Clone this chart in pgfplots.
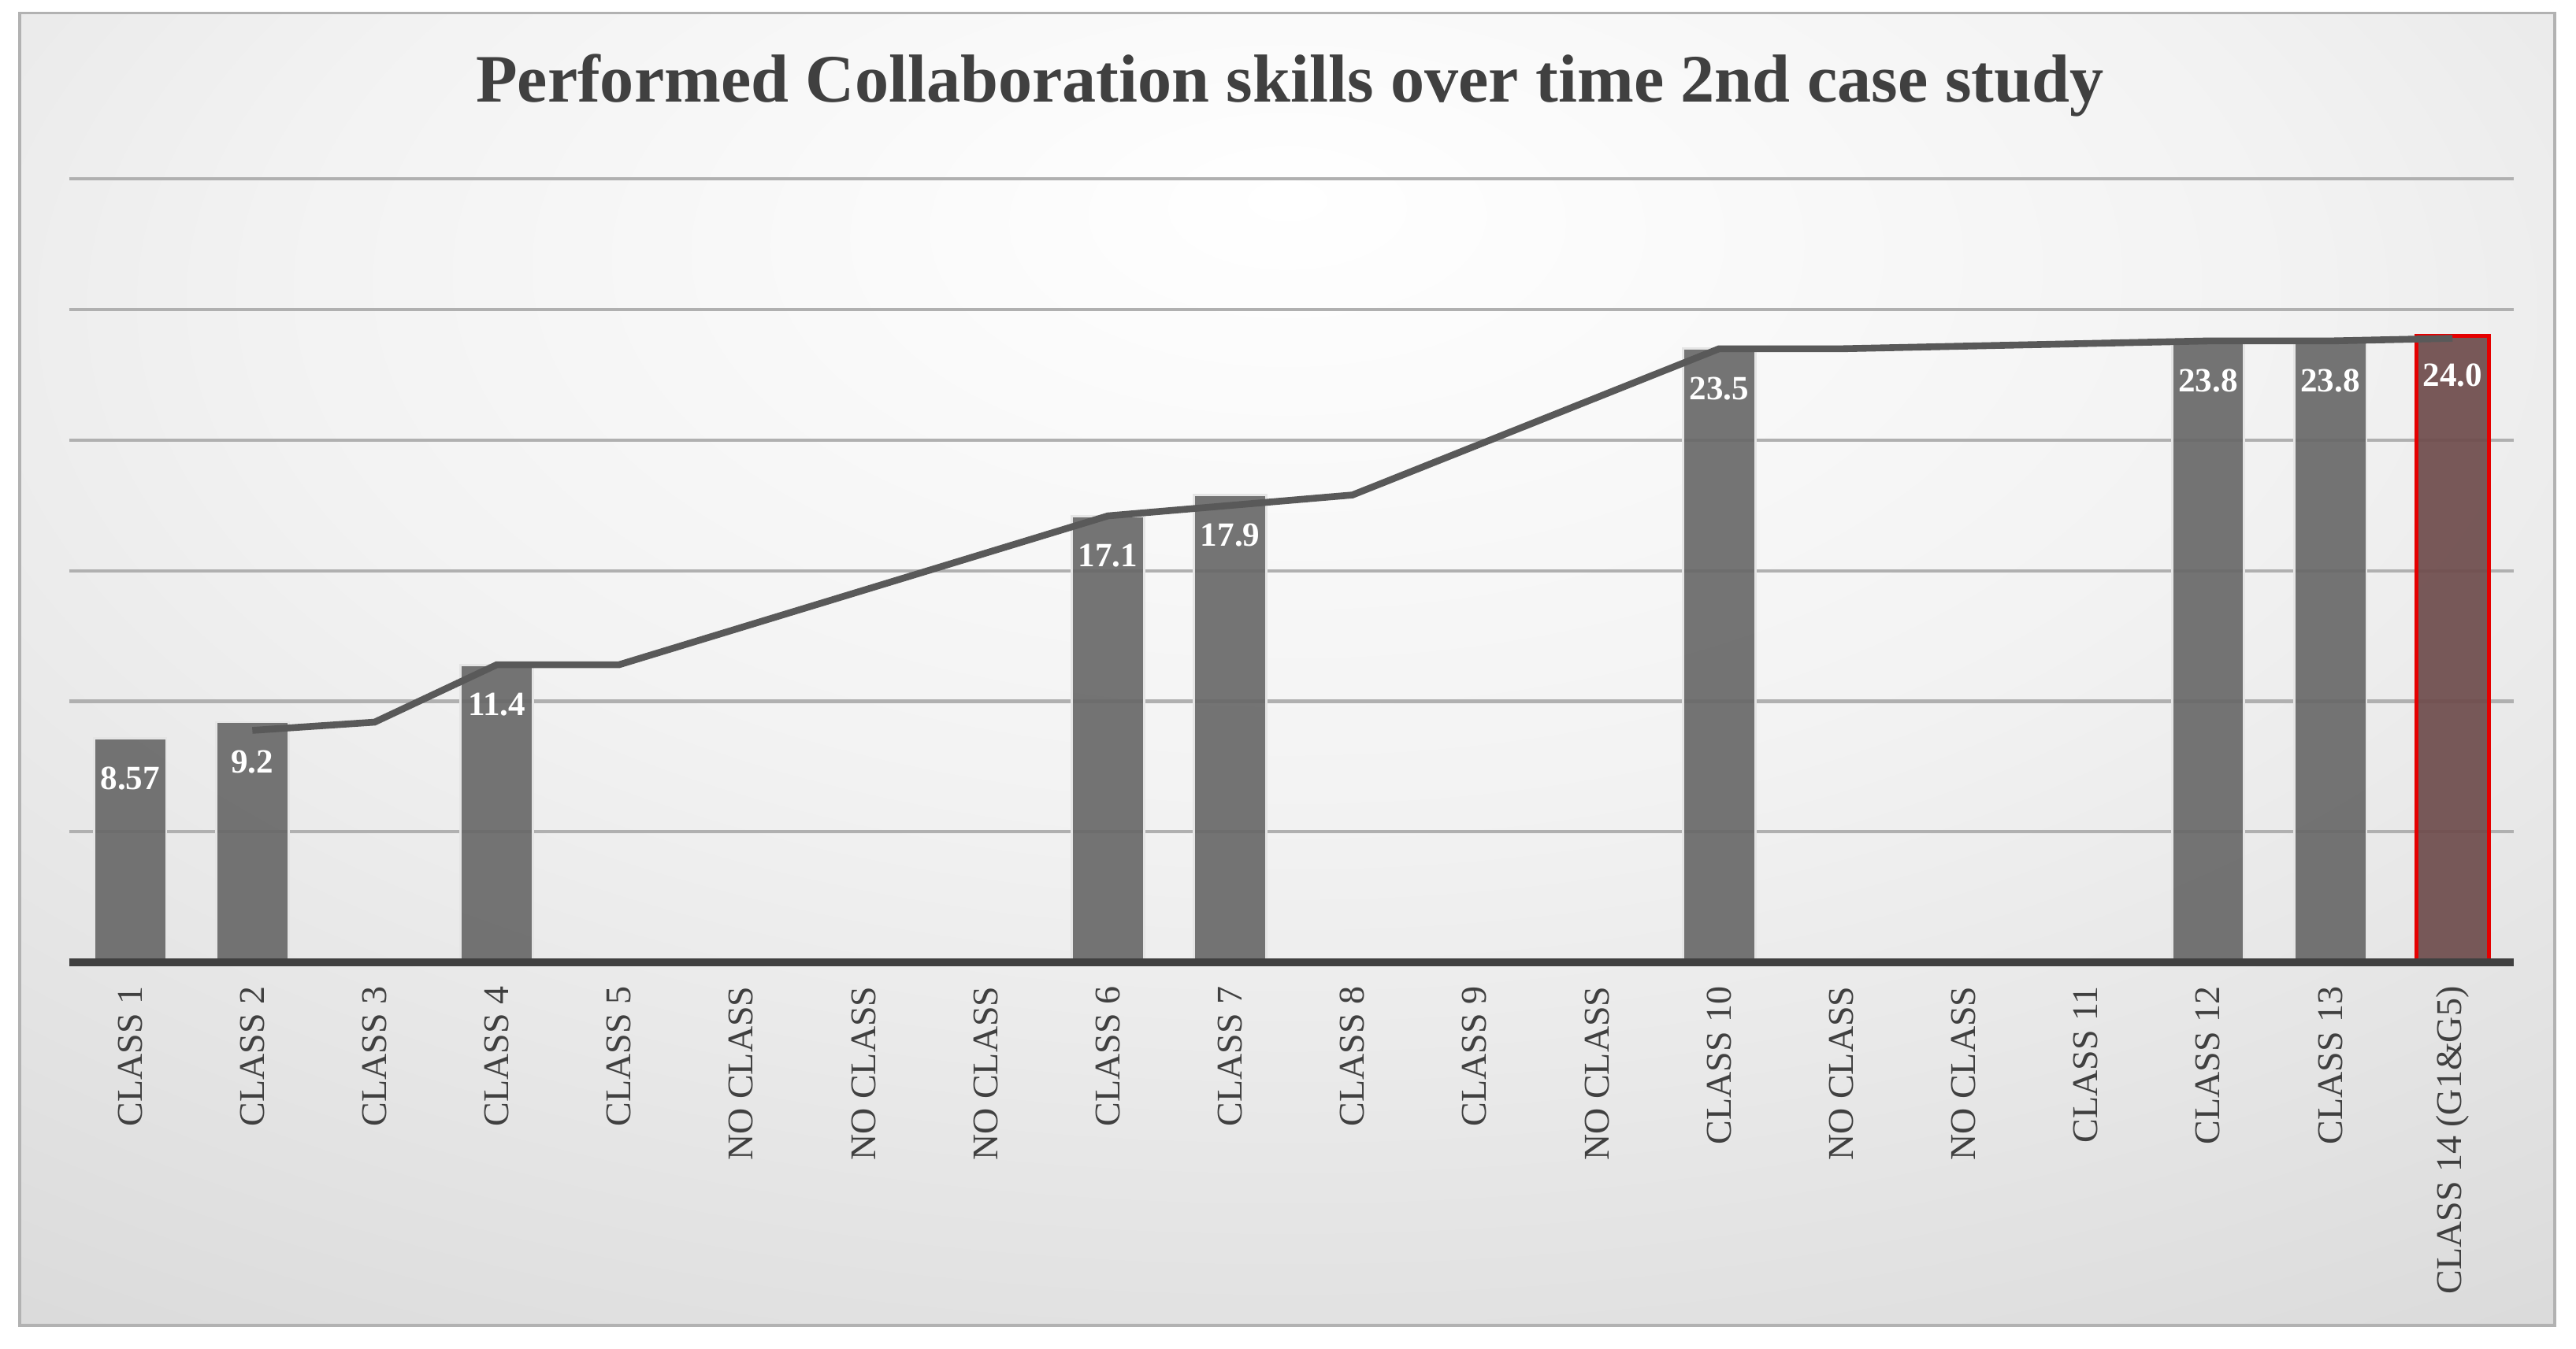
\documentclass[border=0pt]{standalone}
\usepackage{pgfplots}
\pgfplotsset{compat=1.18}
\usepackage{fontspec}
\setmainfont{Liberation Serif}
\definecolor{barg}{HTML}{666666}
\definecolor{lastbar}{HTML}{6E4C4C}
\definecolor{trend}{HTML}{595959}
\definecolor{gridc}{HTML}{B0B0B0}
\definecolor{labc}{HTML}{404040}
\pgfdeclareradialshading{bgshade}{\pgfpoint{0bp}{18bp}}{%
  color(0bp)=(white); color(20bp)=(white!95!black); color(40bp)=(white!87!black);
  color(55bp)=(white!81!black); color(75bp)=(white!77!black); color(100bp)=(white!76!black)}
\begin{document}
\begin{tikzpicture}
% page and chart area
\fill[white] (0,0) rectangle (20,10.472);
\shade[shading=bgshade] (0.153,0.179) rectangle (19.834,10.370);
\draw[gray!60, line width=0.6pt] (0.153,0.179) rectangle (19.834,10.370);
\node[font=\bfseries\fontsize{15}{18}\selectfont, text=labc] at (10.013,9.809)
  {Performed Collaboration skills over time 2nd case study};
\begin{axis}[at={(0.5357cm,2.9974cm)}, anchor=south west, scale only axis,
    width=18.98cm, height=6.084cm,
    xmin=-0.5, xmax=19.5, ymin=0, ymax=30, clip=false,
    axis line style={draw=none}, tick style={draw=none},
    ytick={5,10,...,30}, yticklabels={},
    ymajorgrids, grid style={gridc, line width=0.7pt},
    xtick={0,...,19},
    xticklabels={CLASS 1, CLASS 2, CLASS 3, CLASS 4, CLASS 5, NO CLASS, NO CLASS,
      NO CLASS, CLASS 6, CLASS 7, CLASS 8, CLASS 9, NO CLASS, CLASS 10, NO CLASS,
      NO CLASS, CLASS 11, CLASS 12, CLASS 13, CLASS 14 (G1\&G5)},
    xticklabel style={rotate=90, anchor=east, inner sep=0pt, text=labc,
      font=\fontsize{8}{9.6}\selectfont},
    xticklabel shift=0.18cm,
    point meta=explicit symbolic,
    every node near coord/.append style={anchor=center, yshift=-0.31cm,
      text=white, fill opacity=1, text opacity=1,
      font=\bfseries\fontsize{7.5}{9}\selectfont}]
% bars
\addplot[ybar, bar width=0.561cm, fill=barg, fill opacity=0.9,
  draw=white!80!gray, line width=0.5pt, nodes near coords] coordinates {
  (0,8.57) [8.57] (1,9.2) [9.2] (3,11.4) [11.4] (8,17.1) [17.1] (9,17.9) [17.9]
  (13,23.5) [23.5] (17,23.8) [23.8] (18,23.8) [23.8]};
\addplot[ybar, bar width=0.561cm, fill=lastbar, fill opacity=0.92,
  draw=red!90!black, line width=0.9pt, nodes near coords] coordinates {
  (19,24.0) [24.0]};
% 2-period moving average line
\addplot[trend, line width=1.5pt, mark=none] coordinates {
  (1,8.885) (2,9.2) (3,11.4) (4,11.4) (8,17.1) (9,17.5) (10,17.9)
  (13,23.5) (14,23.5) (17,23.8) (18,23.8) (19,23.9)};
% horizontal axis line
\addplot[labc, line width=1.6pt, mark=none] coordinates {(-0.5,0) (19.5,0)};
\end{axis}
\end{tikzpicture}
\end{document}
